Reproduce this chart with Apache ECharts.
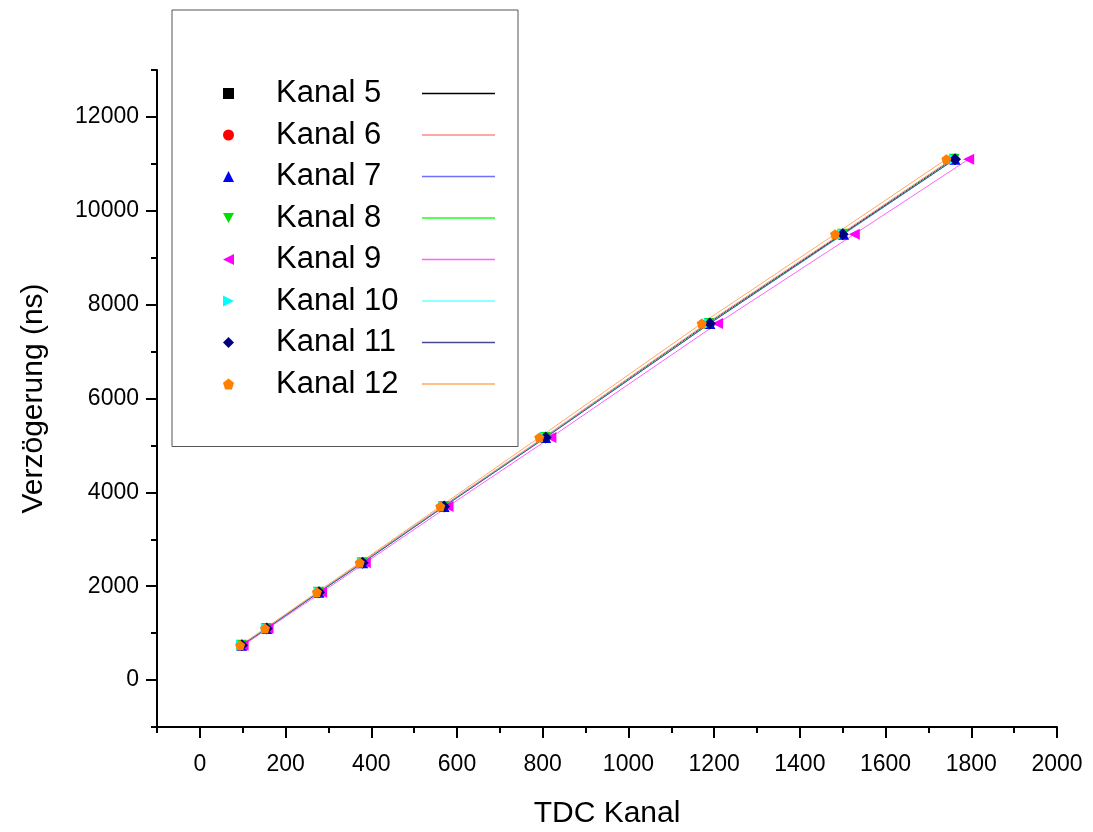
<!DOCTYPE html>
<html>
<head>
<meta charset="utf-8">
<title>TDC Kanal</title>
<script src="https://cdn.jsdelivr.net/npm/echarts@6/dist/echarts.min.js"></script>
<style>
  html, body { margin: 0; padding: 0; background: #fff; }
  #main { width: 1093px; height: 832px; }
</style>
</head>
<body>
<div id="main"></div>
<script>
// delay values (ns) shared by all channels
var delays = [740, 1100, 1870, 2500, 3700, 5170, 7600, 9500, 11100];

// TDC channel read for each delay
var kanal5 = [97, 155, 277, 378, 568, 805, 1186, 1498, 1758];
var kanal6 = [96, 154, 276, 376, 566, 802, 1182, 1494, 1754];
var kanal7 = [98, 156, 278, 380, 570, 807, 1190, 1502, 1762];
var kanal8 = [97, 155, 277, 379, 569, 806, 1188, 1500, 1760];
var kanal9 = [101, 159, 284, 386, 579, 819, 1208, 1527, 1794];
var kanal10 = [97, 155, 278, 379, 569, 806, 1189, 1501, 1761];
var kanal11 = [98, 156, 278, 380, 570, 807, 1190, 1500, 1762];
var kanal12 = [94, 152, 273, 373, 561, 792, 1171, 1482, 1742];

var channelNames = ["Kanal 5", "Kanal 6", "Kanal 7", "Kanal 8", "Kanal 9", "Kanal 10", "Kanal 11", "Kanal 12"];
var channelData = [kanal5, kanal6, kanal7, kanal8, kanal9, kanal10, kanal11, kanal12];

var xTickLabels = [0, 200, 400, 600, 800, 1000, 1200, 1400, 1600, 1800, 2000];
var yTickLabels = [0, 2000, 4000, 6000, 8000, 10000, 12000];

// marker colours / line colours / symbols
var markerColors = ["#000000", "#ff0000", "#0000ff", "#00e000", "#ff00ff", "#00ffff", "#000080", "#ff8000"];
var lineColors = ["#000000", "#ff8a8a", "#7070ff", "#20ff20", "#ff60ff", "#70ffff", "#4a4a90", "#ffaa60"];
var symbols = [
  "rect",
  "circle",
  "triangle",
  "path://M0,0 L10,0 L5,9 Z",
  "path://M10,0 L10,10 L0,5 Z",
  "path://M0,0 L0,10 L10,5 Z",
  "diamond",
  "path://M5,0 L10,3.8 L8.1,10 L1.9,10 L0,3.8 Z"
];
var symbolSizes = [8, 9, 11, 11, 11, 11, 12, 10];

var chart = echarts.init(document.getElementById("main"));

var font = "'Liberation Sans', Arial, sans-serif";

var series = [];
var legendData = [];
var rich = {
  sp: { width: 37 },
  t: { width: 146, fontSize: 31, lineHeight: 30, color: "#000", fontFamily: font }
};
for (var i = 0; i < channelNames.length; i++) {
  var pts = [];
  for (var j = 0; j < delays.length; j++) {
    pts.push([channelData[i][j], delays[j]]);
  }
  series.push({
    name: channelNames[i],
    type: "line",
    data: pts,
    symbol: symbols[i],
    symbolSize: symbolSizes[i],
    itemStyle: { color: markerColors[i] },
    lineStyle: { color: lineColors[i], width: 1 },
    animation: false
  });
  legendData.push({ name: channelNames[i], icon: symbols[i] });
  rich["ln" + i] = { width: 73, height: 1.5, backgroundColor: lineColors[i], verticalAlign: "middle" };
}

function plain(v) {
  return String(v);
}

chart.setOption({
  backgroundColor: "#ffffff",
  animation: false,
  grid: {
    left: 157,
    right: 36,
    top: 70,
    bottom: 105,
    outerBoundsMode: "none"
  },
  legend: {
    orient: "vertical",
    left: 172,
    top: 10,
    padding: [68, 23, 47, 51],
    borderColor: "#555",
    borderWidth: 1,
    itemWidth: 11,
    itemHeight: 11,
    itemGap: 10.5,
    selectedMode: false,
    data: legendData,
    formatter: function(name) {
      var k = channelNames.indexOf(name);
      return "{sp|}{t|" + name + "}{ln" + k + "|}";
    },
    textStyle: {
      rich: rich
    }
  },
  xAxis: [
    {
      type: "value",
      position: "bottom",
      min: -100,
      max: 2000,
      interval: 100,
      name: "TDC Kanal",
      nameLocation: "middle",
      nameGap: 72,
      nameTextStyle: { fontSize: 30, color: "#000", fontFamily: font },
      axisLine: { onZero: false, lineStyle: { color: "#000", width: 2 } },
      axisTick: { length: 6, lineStyle: { color: "#000", width: 2 } },
      axisLabel: { customValues: xTickLabels, formatter: plain, fontSize: 23, color: "#000", margin: 26, fontFamily: font },
      splitLine: { show: false }
    },
    {
      // long ticks at the labelled values
      type: "value",
      position: "bottom",
      min: -100,
      max: 2000,
      interval: 100,
      axisLine: { show: false, onZero: false },
      axisTick: { customValues: xTickLabels, length: 11, lineStyle: { color: "#000", width: 2 } },
      axisLabel: { show: false },
      splitLine: { show: false }
    }
  ],
  yAxis: [
    {
      type: "value",
      position: "left",
      min: -1000,
      max: 13000,
      interval: 1000,
      name: "Verzögerung (ns)",
      nameLocation: "middle",
      nameGap: 108,
      nameTextStyle: { fontSize: 30, color: "#000", fontFamily: font },
      axisLine: { show: true, onZero: false, lineStyle: { color: "#000", width: 2 } },
      axisTick: { show: true, length: 6, lineStyle: { color: "#000", width: 2 } },
      axisLabel: { customValues: yTickLabels, formatter: plain, fontSize: 23, color: "#000", margin: 18, fontFamily: font },
      splitLine: { show: false }
    },
    {
      type: "value",
      position: "left",
      min: -1000,
      max: 13000,
      interval: 1000,
      axisLine: { show: false, onZero: false },
      axisTick: { show: true, customValues: yTickLabels, length: 11, lineStyle: { color: "#000", width: 2 } },
      axisLabel: { show: false },
      splitLine: { show: false }
    }
  ],
  series: series
});

window.onresize = function() {
  chart.resize();
};
</script>
</body>
</html>
